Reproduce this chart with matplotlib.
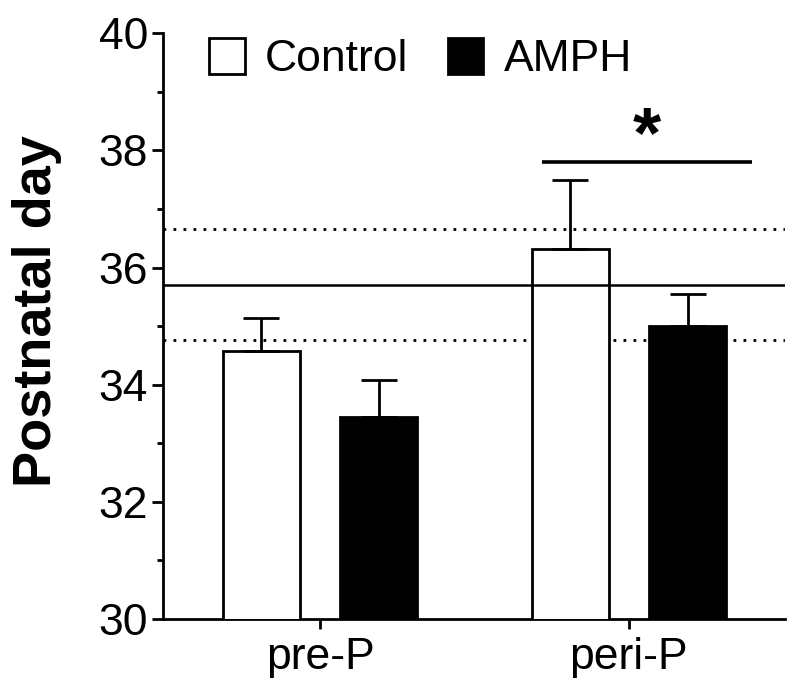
import numpy as np
import matplotlib
matplotlib.use("Agg")
import matplotlib.pyplot as plt
from matplotlib.patches import Patch
from matplotlib.ticker import MultipleLocator

# ── Data ─────────────────────────────────────────────────────────────────────
groups    = ["pre-P", "peri-P"]
series    = ["Control", "AMPH"]
ctrl_mean = [34.57, 36.32]
ctrl_err  = [0.57, 1.17]
amph_mean = [33.44, 35.00]
amph_err  = [0.64, 0.55]
ref_mean  = 35.70          # solid reference line
ref_band  = [34.76, 36.66]  # dotted lines
sig_y     = 37.81

plt.rcParams.update({
    "font.family": ["Liberation Sans", "DejaVu Sans"],
    "axes.linewidth": 2.0,
})

fig = plt.figure(figsize=(8, 6.92), dpi=100)
ax = fig.add_axes([0.204, 0.1055, 0.777, 0.8465])

x = np.arange(len(groups))
off, w = 0.19, 0.25
lw = 2.0
ekw = dict(elinewidth=lw, capthick=lw, capsize=13, ecolor="black")

ax.bar(x - off, ctrl_mean, w, color="white", edgecolor="black", lw=lw,
       yerr=[np.zeros(2), ctrl_err], error_kw=ekw, zorder=3)
ax.bar(x + off, amph_mean, w, color="black", edgecolor="black", lw=lw,
       yerr=[np.zeros(2), amph_err], error_kw=ekw, zorder=3)

ax.axhline(ref_mean, color="black", lw=1.8, zorder=4)
for v in ref_band:
    ax.axhline(v, color="black", lw=2.0, ls=(0, (1, 2.6)), zorder=2)

# significance bar
ax.plot([0.718, 1.398], [sig_y, sig_y], color="black", lw=2.6, solid_capstyle="butt")
ax.text(1.058, 38.34, "*", ha="center", va="center_baseline", fontsize=52,
        fontweight="bold")

ax.set_xlim(-0.508, 1.505)
ax.set_ylim(30, 40)
ax.yaxis.set_major_locator(MultipleLocator(2))
ax.yaxis.set_minor_locator(MultipleLocator(1))
ax.set_xticks(x)
ax.set_xticklabels(groups)
ax.tick_params(axis="both", labelsize=32, width=2.0, length=7, direction="out")
ax.tick_params(axis="y", which="major", length=8, pad=3)
ax.tick_params(axis="y", which="minor", length=4.5, width=2.0)
ax.tick_params(axis="x", pad=6)
for s in ["top", "right"]:
    ax.spines[s].set_visible(False)

ax.set_ylabel("Postnatal day", fontsize=39, fontweight="bold")
ax.yaxis.set_label_coords(-0.1625, 0.525)

handles = [Patch(facecolor="white", edgecolor="black", lw=2.0, label=series[0]),
           Patch(facecolor="black", edgecolor="black", lw=2.0, label=series[1])]
ax.legend(handles=handles, loc="upper left", bbox_to_anchor=(0.045, 1.022), ncol=2,
          frameon=False, fontsize=32, handlelength=0.8, handleheight=0.85,
          handletextpad=0.45, columnspacing=0.9, borderaxespad=0)

fig.savefig("out.png", dpi=100)
